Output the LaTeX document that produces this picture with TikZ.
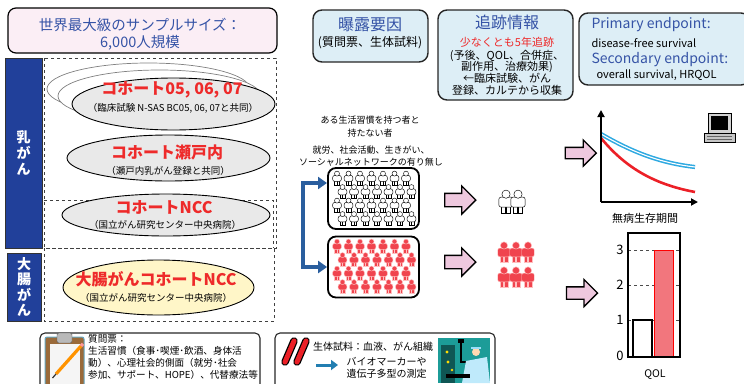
\documentclass[tikz,border=0pt]{standalone}
\usepackage{fontspec}
\setmainfont{Noto Sans CJK JP}
\usetikzlibrary{arrows.meta,shapes.arrows,positioning}

\definecolor{titlepink}{HTML}{FBEEF5}
\definecolor{headblue}{HTML}{3553A6}
\definecolor{boxblue}{HTML}{DDEEF6}
\definecolor{barblue}{HTML}{21409A}
\definecolor{cohortred}{HTML}{EE2A2A}
\definecolor{cohortgray}{HTML}{E9E9E9}
\definecolor{colonyellow}{HTML}{FFF6C8}
\definecolor{arrowpink}{HTML}{EEC8DE}
\definecolor{brkblue}{HTML}{2A5E9E}
\definecolor{crowdred}{HTML}{F0444E}
\definecolor{survblue}{HTML}{2EA9E1}
\definecolor{survred}{HTML}{EC2027}
\definecolor{qolred}{HTML}{F2767D}
\definecolor{labteal}{HTML}{1C9C98}
\definecolor{boardbrown}{HTML}{9A6A3A}

\newcommand\fsz[2]{\fontsize{#1}{#2}\selectfont}

\tikzset{
  pics/person/.style={code={
    \path[#1] (-2.6,-4.4) rectangle (-0.2,0);
    \path[#1] (0.2,-4.4) rectangle (2.6,0);
    \path[#1, rounded corners=2pt] (-4.3,-3.6) -- (-4.3,-9.6) -- (4.3,-9.6) -- (4.3,-3.6) -- cycle;
    \path[#1] (0,-11.4) circle (2.5);
  }},
  plainman/.style={fill=white, draw=black, line width=0.45},
  redman/.style={fill=crowdred, draw=red!25!white, line width=0.45},
}

\begin{document}
\begin{tikzpicture}[x=1pt,y=-1pt,
  titlebox/.style={draw=black, line width=1.2, fill=titlepink, rounded corners=8pt},
  topbox/.style={draw=black!85, line width=1.4, fill=boxblue, rounded corners=9pt},
  sitebar/.style={draw=black!80, fill=barblue, line width=0.8},
  sitetxt/.style={text=white, font=\fsz{14}{16}\bfseries, align=center},
  dashbox/.style={draw=black!75, dashed, line width=0.7},
  cohort/.style={draw=black, line width=0.9, fill=cohortgray},
  ghost/.style={draw=black!50, line width=0.7, fill=white},
  cohorttxt/.style={text=cohortred, font=\fsz{16}{18}\bfseries},
  subtxt/.style={font=\fsz{9.5}{11}},
  headtxt/.style={text=headblue, font=\fsz{16}{18}},
  pinkarrow/.style={single arrow, draw=black, line width=1.3, fill=arrowpink,
    minimum height=31pt, inner sep=0pt, single arrow head extend=7.5pt},
  crowdbox/.style={draw=black, line width=1.8, fill=white, rounded corners=8pt,
    minimum width=91pt, minimum height=61pt},
  legendbox/.style={draw=black!85, line width=1.1, rounded corners=5pt},
]
\useasboundingbox (0,0) rectangle (744,383);

% title
\node[titlebox, minimum width=269pt, minimum height=45pt] (title) at (142.5,30.5) {};
\node[text=headblue, font=\fsz{14.5}{17}] (titleA) at (140,25) {世界最大級のサンプルサイズ：};
\node[text=headblue, font=\fsz{14.5}{17}] (titleB) at (140,43) {6,000人規模};

% cancer sites
\node[sitebar, minimum width=37pt, minimum height=190pt] (brst) at (23.5,153) {};
\node[sitetxt] (brstT) at (brst) {乳\\が\\ん};
\node[sitebar, minimum width=34pt, minimum height=68pt] (colon) at (24,287) {};
\node[sitetxt, font=\fsz{14}{15.5}\bfseries] (colonT) at (colon) {大\\腸\\が\\ん};

\draw[dashbox] (44,58) rectangle (276,248);
\draw[dashbox] (44,200) -- (273,200) -- (273,248);
\draw[dashbox] (44,248) rectangle (274,321);

% cohorts
\draw[ghost] (148.5,89) ellipse (101.5 and 26);
\draw[ghost] (159.5,96) ellipse (101.5 and 26);
\draw[cohort] (173.5,104) ellipse (101.5 and 26);
\node[cohorttxt] (cohA) at (172,90) {コホート05, 06, 07};
\node[subtxt] (cohAs) at (173,108) {（臨床試験 N-SAS BC05, 06, 07と共同）};

\draw[cohort] (168.5,158) ellipse (101.5 and 23);
\node[cohorttxt] (cohB) at (167,152) {コホート瀬戸内};
\node[subtxt] (cohBs) at (168,171) {（瀬戸内乳がん登録と共同）};

\draw[cohort] (166,215) ellipse (104 and 21);
\node[cohorttxt] (cohC) at (164,207) {コホートNCC};
\node[subtxt] (cohCs) at (165,225) {（国立がん研究センター中央病院）};

\draw[cohort, fill=colonyellow] (158.5,287.5) ellipse (95.5 and 27.5);
\node[cohorttxt] (cohD) at (156,279) {大腸がんコホートNCC};
\node[subtxt] (cohDs) at (156,298) {（国立がん研究センター中央病院）};

% exposure / follow-up / endpoints
\node[topbox, minimum width=115pt, minimum height=52pt] (expo) at (370.5,36) {};
\node[headtxt] (expoT) at (370,25) {曝露要因};
\node[font=\fsz{12}{14}] (expoS) at (370,43) {(質問票、生体試料)};

\node[topbox, minimum width=135pt, minimum height=90pt] (follow) at (505.5,55) {};
\node[headtxt] (followT) at (507,22) {追跡情報};
\node[text=cohortred, font=\fsz{11}{13}] (followR) at (507,42) {少なくとも5年追跡};
\node[font=\fsz{11}{11.7}, align=center] (followS) at (507,72.5)
  {(予後、QOL、合併症、\\副作用、治療効果)\\←臨床試験、がん\\登録、カルテから収集};

\node[topbox, minimum width=171pt, minimum height=72pt] (endp) at (664.5,49) {};
\node[headtxt, font=\fsz{14}{16}, anchor=west] (endpA) at (588,25) {Primary endpoint:};
\node[font=\fsz{11}{13}, anchor=west] (endpAs) at (588,43) {disease-free survival};
\node[headtxt, font=\fsz{14}{16}, anchor=west] (endpB) at (588,60) {Secondary endpoint:};
\node[font=\fsz{11}{13}, anchor=west] (endpBs) at (593,75) {overall survival, HRQOL};

% lifestyle groups
\node[font=\fsz{9}{12.5}, align=center] (grpQ) at (370,126.5) {ある生活習慣を持つ者と\\持たない者};
\node[font=\fsz{9}{12}, align=center] (grpW) at (371,156) {就労、社会活動、生きがい、\\ソーシャルネットワークの有り無し};

\node[crowdbox] (grpA) at (373.5,198.5) {};
\node[crowdbox] (grpB) at (373.5,267) {};
\foreach \r in {0,...,3}
  \foreach \c in {0,...,6} {
    \pic at ({337+11.5*\c+5.5*mod(\r,2)},{185+13.5*\r}) {person=plainman};
    \pic at ({337+11.5*\c+5.5*mod(\r,2)},{253+13.5*\r}) {person=redman};
  }

\coordinate (brkA) at (327,183);
\draw[brkblue, line width=3.5, {Triangle[length=9pt,width=12pt]}-{Triangle[length=9pt,width=12pt]}]
  (brkA) -- ++(-24,0) |- (grpB.west);

% arrows to outcome
\node[pinkarrow, minimum width=28pt] (arA) at (457,200) {\rule{0pt}{12pt}};
\node[pinkarrow, minimum width=28pt] (arB) at (457,262) {\rule{0pt}{12pt}};
\node[pinkarrow, minimum width=24pt] (arC) at (578,153) {\rule{0pt}{10pt}};
\node[pinkarrow, minimum width=26pt] (arD) at (579,293) {\rule{0pt}{11pt}};

\pic[scale=1.65] at (506,213) {person=plainman};
\pic[scale=1.65] at (518,213) {person=plainman};
\foreach \c in {0,1,2} {
  \pic[scale=1.45] at ({504+12*\c},262) {person=redman};
  \pic[scale=1.45] at ({504+12*\c},287) {person=redman};
}

% survival curves
\coordinate (kmO) at (601,202);
\coordinate (kmY) at (601,110);
\coordinate (kmX) at (698,202);
\draw[survblue, line width=4.2] (601,134) .. controls (632,152) and (660,163) .. (695,167);
\draw[white, line width=1.1] (601,134) .. controls (632,152) and (660,163) .. (695,167);
\draw[survred, line width=2.6] (601,138) .. controls (624,166) and (652,184) .. (695,192);
\draw[line width=1.9, -{Triangle[length=7pt,width=7pt]}] (kmO) -- (kmY);
\draw[line width=1.9, -{Triangle[length=7pt,width=7pt]}] (kmO) -- (kmX);
\node[font=\fsz{11}{13}] (kmL) at (645,218) {無病生存期間};

% computer
\draw[black, fill=gray!35, line width=0.6] (708,113) rectangle (731,133);
\fill[black] (711,116) rectangle (728,130);
\draw[black, fill=gray!45, line width=0.6] (704,133) rectangle (735,142);
\draw[gray!80!black, line width=0.7] (707,136) -- (732,136) (707,139) -- (732,139);

% QOL bars
\foreach \v/\yy in {1/320,2/285,3/250} {
  \draw[black!70, dashed, line width=0.5] (628,\yy) -- (680,\yy);
  \node[font=\fsz{13}{15}, anchor=east] (tick\v) at (627,\yy) {\v};
}
\node[font=\fsz{13}{15}, anchor=east] (tick0) at (627,356) {0};
\draw[line width=1.3, fill=white] (633,320) rectangle (652,357);
\draw[red, line width=1, fill=qolred] (654,250) rectangle (673,357);
\draw[line width=1.6] (628,233) rectangle (680,357);
\node[font=\fsz{10.5}{12}] (qolL) at (655,375) {QOL};

% questionnaire legend
\draw[legendbox] (40,333) rectangle (260,392);
\draw[draw=cyan!50!gray, fill=boardbrown, rounded corners=2pt, line width=1] (45,337) rectangle (84,386);
\fill[white!92!gray] (50,344) rectangle (80,386);
\draw[gray!70!black, fill=gray!55, rounded corners=1.5pt] (57,333) rectangle (72,343);
\draw[orange!85!yellow, line width=3.2] (56,374) -- (81,346);
\draw[black!80, line width=1.2] (52.5,378) -- (56,374);
\draw[pink!80!red, line width=3.2] (81,346) -- (83,343.8);
\node[font=\fsz{9.6}{12}, align=left, anchor=north west, inner sep=0pt] (qnT) at (88,334)
  {質問票：\\生活習慣（食事･喫煙･飲酒、身体活\\動）、心理社会的側面（就労･社会\\参加、サポート、HOPE）、代替療法等};

% biosample legend
\draw[legendbox] (275,333) rectangle (495,392);
\draw[line width=7.5, line cap=round, black] (285,362) -- (294,341);
\draw[line width=5, line cap=round, survred] (285,362) -- (294,341);
\draw[line width=7.5, line cap=round, black] (297,362) -- (306,341);
\draw[line width=5, line cap=round, survred] (297,362) -- (306,341);
\node[font=\fsz{10}{12}] (bioT) at (373,347) {生体試料：血液、がん組織};
\coordinate (bioA) at (316,365);
\coordinate (bioB) at (338,365);
\draw[-{Triangle[length=7pt,width=10pt]}, line width=3, brkblue!80!cyan] (bioA) -- (bioB);
\node[font=\fsz{10}{12.5}, align=left, anchor=west] (bioS) at (343,368) {バイオマーカーや\\遺伝子多型の測定};

% lab scene
\fill[labteal] (438,338) rectangle (490,383);
\fill[labteal!55!black] (441,345) rectangle (455,383);
\fill[yellow!80!orange] (447,352) circle (1.6) (448,362) circle (1.6) (452,370) circle (1.3);
\draw[black, line width=1.2] (461,339) -- (461,362) -- (470,362);
\fill[black] (458,339) rectangle (464,343);
\fill[cyan!25] (466,361) -- (487,357) -- (490,383) -- (462,383) -- cycle;
\fill[orange!30!white] (476,352) circle (4);
\fill[cyan!40] (471,349) rectangle (481,346.5);
\fill[black] (446,374) rectangle (470,378);
\end{tikzpicture}
\end{document}
